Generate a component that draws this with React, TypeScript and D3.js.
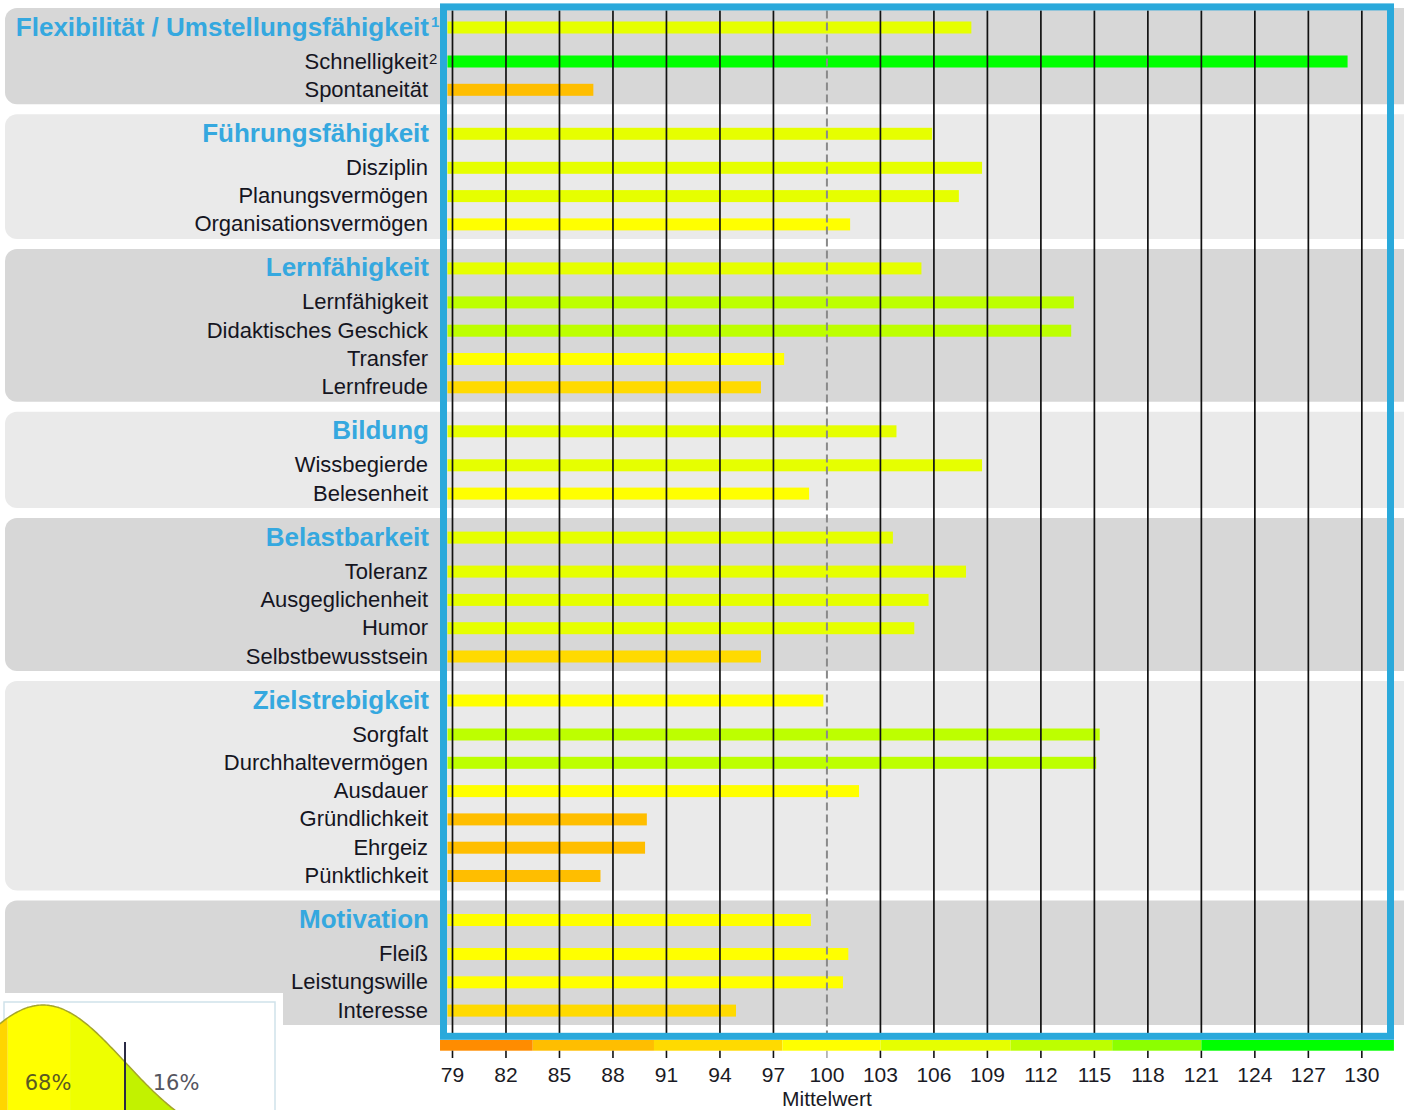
import React from 'react';
import * as d3 from 'd3';

// ---------- data ----------
const groupNames = [
  'Flexibilität / Umstellungsfähigkeit',
  'Führungsfähigkeit',
  'Lernfähigkeit',
  'Bildung',
  'Belastbarkeit',
  'Zielstrebigkeit',
  'Motivation',
];
const groupNotes = ['1', '', '', '', '', '', ''];
const groupScores = [108.1, 105.9, 105.3, 103.9, 103.7, 99.8, 99.1];

const itemNames = [
  'Schnelligkeit', 'Spontaneität',
  'Disziplin', 'Planungsvermögen', 'Organisationsvermögen',
  'Lernfähigkeit', 'Didaktisches Geschick', 'Transfer', 'Lernfreude',
  'Wissbegierde', 'Belesenheit',
  'Toleranz', 'Ausgeglichenheit', 'Humor', 'Selbstbewusstsein',
  'Sorgfalt', 'Durchhaltevermögen', 'Ausdauer', 'Gründlichkeit', 'Ehrgeiz', 'Pünktlichkeit',
  'Fleiß', 'Leistungswille', 'Interesse',
];
const itemNotes = ['2', '', '', '', '', '', '', '', '', '', '', '', '', '', '', '', '', '', '', '', '', '', '', ''];
const itemGroup = [0, 0, 1, 1, 1, 2, 2, 2, 2, 3, 3, 4, 4, 4, 4, 5, 5, 5, 5, 5, 5, 6, 6, 6];
const itemScores = [
  129.2, 86.9,
  108.7, 107.4, 101.3,
  113.85, 113.7, 97.6, 96.3,
  108.7, 99.0,
  107.8, 105.7, 104.9, 96.3,
  115.3, 115.1, 101.8, 89.9, 89.8, 87.3,
  101.2, 100.9, 94.9,
];

const tickValues = [79, 82, 85, 88, 91, 94, 97, 100, 103, 106, 109, 112, 115, 118, 121, 124, 127, 130];
const scaleBreaks = [83.5, 90.3, 97.5, 103, 110.3, 116, 121];
const scaleColors = ['#FF8C00', '#FFBE00', '#FFDA00', '#FFFF00', '#E6FF00', '#BDFF00', '#8CFF00', '#00FF00'];
const scaleExtent = [78.3, 131.8];
const meanValue = 100;
const axisTitle = 'Mittelwert';
const bellBreaks = [-0.43, 0.33, 1.0];
const bellColors = ['#FFD500', '#FFFF00', '#EEFF00', '#C2F200'];
const bellShares = ['68%', '16%'];

// ---------- layout ----------
const W = 1404;
const H = 1110;
const FONT = '"Liberation Sans", Arial, sans-serif';

type Row = { kind: 'head' | 'item'; label: string; note: string; value: number; group: number; y: number };

function buildRows(): Row[] {
  const rows: Row[] = [];
  let y = 27.5;
  groupNames.forEach((g, gi) => {
    if (gi > 0) y += 44;
    rows.push({ kind: 'head', label: g, note: groupNotes[gi], value: groupScores[gi], group: gi, y });
    let first = true;
    itemNames.forEach((n, ii) => {
      if (itemGroup[ii] !== gi) return;
      y += first ? 34 : 28.3;
      first = false;
      rows.push({ kind: 'item', label: n, note: itemNotes[ii], value: itemScores[ii], group: gi, y });
    });
  });
  return rows;
}

export default function App() {
  const rows = buildRows();
  const x = d3.scaleLinear().domain([78.72, 131.4]).range([447.5, 1386.8]);
  const color = d3.scaleThreshold<number, string>().domain(scaleBreaks).range(scaleColors);

  const panels = groupNames.map((g, gi) => {
    const gr = rows.filter((r) => r.group === gi);
    return { top: gr[0].y - 19.5, bottom: gr[gr.length - 1].y + 14.5, dark: gi % 2 === 0 };
  });

  const stripEdges = [scaleExtent[0], ...scaleBreaks, scaleExtent[1]];
  const barH = 12;
  const gridTop = 10.5;
  const gridBottom = 1033;

  // bell curve inset
  const bx = d3.scaleLinear().domain([0, 1]).range([43, 125]);
  const by = d3.scaleLinear().domain([0, 1]).range([1150, 1005]);
  const zs = d3.range(-0.8, 2.6, 0.02);
  const bellArea = d3
    .area<number>()
    .x((z) => bx(z))
    .y0(() => by(0))
    .y1((z) => by(Math.exp((-z * z) / 2)))
    .curve(d3.curveBasis);
  const bellLine = d3
    .line<number>()
    .x((z) => bx(z))
    .y((z) => by(Math.exp((-z * z) / 2)))
    .curve(d3.curveBasis);
  const bellEdges = [-3, ...bellBreaks, 4];

  return (
    <svg
      width={W}
      height={H}
      viewBox={`0 0 ${W} ${H}`}
      style={{ position: 'absolute', left: 0, top: 0, display: 'block', background: '#fff' }}
    >
      <defs>
        <clipPath id="bellClip">
          <path d={bellArea(zs) || ''} />
        </clipPath>
        <clipPath id="insetClip">
          <rect x={0} y={993} width={283} height={117} />
        </clipPath>
      </defs>

      {/* group panels */}
      {panels.map((p, i) => (
        <rect
          key={i}
          x={5}
          y={p.top}
          width={1440}
          height={p.bottom - p.top}
          rx={12}
          fill={p.dark ? '#D7D7D7' : '#EAEAEA'}
        />
      ))}

      {/* bars */}
      {rows.map((r, i) => (
        <rect
          key={i}
          x={x(x.domain()[0])}
          y={r.y - barH / 2}
          width={x(r.value) - x(x.domain()[0])}
          height={barH}
          fill={color(r.value)}
        />
      ))}

      {/* grid lines */}
      {tickValues
        .filter((t) => t !== meanValue)
        .map((t) => (
          <line key={t} x1={x(t)} x2={x(t)} y1={gridTop} y2={gridBottom} stroke="#111" strokeWidth={1.7} />
        ))}
      <line
        x1={x(meanValue)}
        x2={x(meanValue)}
        y1={gridTop}
        y2={gridBottom}
        stroke="#8a8a8a"
        strokeWidth={2}
        strokeDasharray="8 4"
      />

      {/* frame */}
      <rect x={443.5} y={6.9} width={947} height={1029.4} fill="none" stroke="#2AA9DB" strokeWidth={7} />

      {/* colour strip */}
      {scaleColors.map((c, i) => (
        <rect
          key={c}
          x={x(stripEdges[i])}
          y={1040}
          width={x(stripEdges[i + 1]) - x(stripEdges[i])}
          height={10.7}
          fill={c}
        />
      ))}

      {/* ticks and labels */}
      {tickValues.map((t) => (
        <g key={t}>
          <line
            x1={x(t)}
            x2={x(t)}
            y1={1050.7}
            y2={1058}
            stroke={t === meanValue ? '#aaa' : '#111'}
            strokeWidth={1.6}
          />
          <text x={x(t)} y={1082} textAnchor="middle" fontFamily={FONT} fontSize={21} fill="#1a1a24">
            {t}
          </text>
        </g>
      ))}
      <text x={x(meanValue)} y={1105.5} textAnchor="middle" fontFamily={FONT} fontSize={21} fill="#1a1a24">
        {axisTitle}
      </text>

      {/* row labels */}
      {rows.map((r, i) =>
        r.kind === 'head' ? (
          <g key={i}>
            <text x={429} y={r.y + 8} textAnchor="end" fontFamily={FONT} fontSize={26} fontWeight="bold" fill="#35A8DF">
              {r.label}
            </text>
            {r.note && (
              <text x={431} y={r.y - 1} fontFamily={FONT} fontSize={15} fontWeight="bold" fill="#35A8DF">
                {r.note}
              </text>
            )}
          </g>
        ) : (
          <g key={i}>
            <text x={428} y={r.y + 7} textAnchor="end" fontFamily={FONT} fontSize={22} fill="#15151f">
              {r.label}
            </text>
            {r.note && (
              <text x={429} y={r.y + 2} fontFamily={FONT} fontSize={15} fill="#15151f">
                {r.note}
              </text>
            )}
          </g>
        )
      )}

      {/* normal distribution inset */}
      <rect x={0} y={993} width={283} height={117} fill="#fff" />
      <g clipPath="url(#insetClip)">
        <rect x={4} y={1002} width={271} height={130} fill="none" stroke="#cfe2ea" strokeWidth={1.5} />
        <g clipPath="url(#bellClip)">
          {bellColors.map((c, i) => (
            <rect
              key={c}
              x={bx(bellEdges[i])}
              y={990}
              width={bx(bellEdges[i + 1]) - bx(bellEdges[i])}
              height={200}
              fill={c}
            />
          ))}
        </g>
        <path d={bellLine(zs) || ''} fill="none" stroke="#a5a52a" strokeWidth={1.5} />
        <line x1={bx(1)} x2={bx(1)} y1={1042} y2={1112} stroke="#2a2a44" strokeWidth={2} />
        <text x={48} y={1090} textAnchor="middle" fontFamily='"DejaVu Sans", sans-serif' fontSize={21} fill="#5a5a22">
          {bellShares[0]}
        </text>
        <text x={176} y={1090} textAnchor="middle" fontFamily='"DejaVu Sans", sans-serif' fontSize={21} fill="#55555f">
          {bellShares[1]}
        </text>
      </g>
    </svg>
  );
}
